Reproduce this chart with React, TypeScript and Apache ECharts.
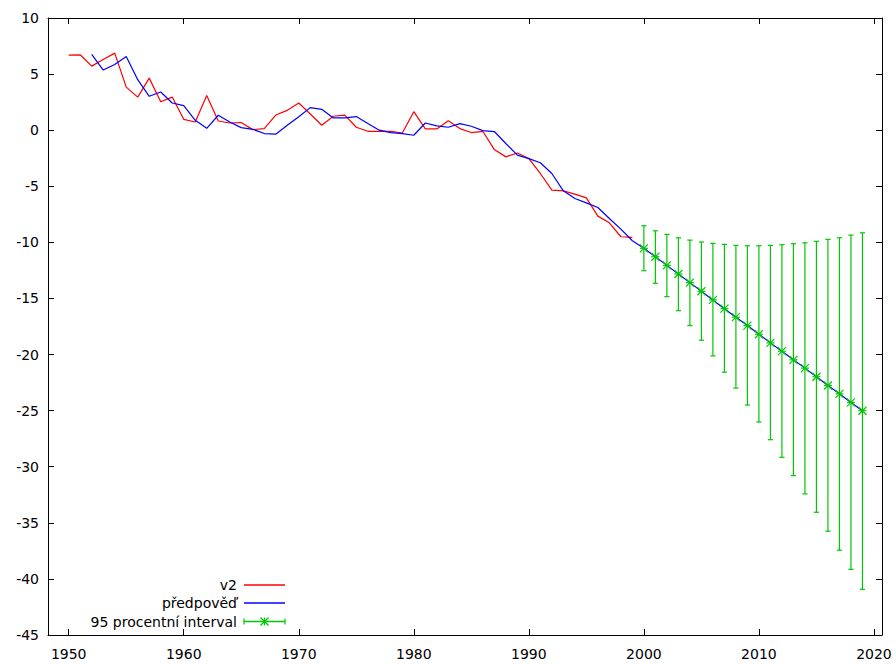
import React, { useEffect, useRef } from "react";
import * as echarts from "echarts";

// v2 (observed), years 1950..1999
const v2Years = [1950, 1951, 1952, 1953, 1954, 1955, 1956, 1957, 1958, 1959, 1960, 1961, 1962, 1963, 1964, 1965, 1966, 1967, 1968, 1969, 1970, 1971, 1972, 1973, 1974, 1975, 1976, 1977, 1978, 1979, 1980, 1981, 1982, 1983, 1984, 1985, 1986, 1987, 1988, 1989, 1990, 1991, 1992, 1993, 1994, 1995, 1996, 1997, 1998, 1999];
const v2Values = [6.69, 6.72, 5.71, 6.3, 6.87, 3.84, 2.95, 4.64, 2.54, 2.95, 0.97, 0.73, 3.1, 0.82, 0.64, 0.68, 0.05, 0.14, 1.35, 1.77, 2.42, 1.44, 0.44, 1.24, 1.35, 0.26, -0.1, -0.1, -0.1, -0.25, 1.65, 0.11, 0.11, 0.85, 0.14, -0.21, -0.1, -1.73, -2.38, -2.03, -2.53, -3.86, -5.35, -5.41, -5.7, -6.03, -7.66, -8.26, -9.5, -9.56];

// předpověď (fitted), years 1952..1999
const fitYears = [1952, 1953, 1954, 1955, 1956, 1957, 1958, 1959, 1960, 1961, 1962, 1963, 1964, 1965, 1966, 1967, 1968, 1969, 1970, 1971, 1972, 1973, 1974, 1975, 1976, 1977, 1978, 1979, 1980, 1981, 1982, 1983, 1984, 1985, 1986, 1987, 1988, 1989, 1990, 1991, 1992, 1993, 1994, 1995, 1996, 1997, 1998, 1999];
const fitValues = [6.75, 5.36, 5.86, 6.57, 4.5, 3.02, 3.4, 2.42, 2.19, 0.88, 0.17, 1.33, 0.73, 0.23, 0.08, -0.3, -0.36, 0.44, 1.2, 2.01, 1.86, 1.09, 1.09, 1.21, 0.59, 0, -0.21, -0.3, -0.45, 0.64, 0.38, 0.26, 0.59, 0.35, -0.04, -0.12, -1.19, -2.23, -2.53, -2.9, -3.86, -5.41, -6.09, -6.48, -6.89, -7.87, -8.82, -9.86];

// forecast with 95% interval, years 2000..2019
const fcYears = [2000, 2001, 2002, 2003, 2004, 2005, 2006, 2007, 2008, 2009, 2010, 2011, 2012, 2013, 2014, 2015, 2016, 2017, 2018, 2019];
const fcValues = [-10.53, -11.28, -12.05, -12.82, -13.59, -14.36, -15.13, -15.91, -16.67, -17.42, -18.19, -18.96, -19.7, -20.47, -21.21, -21.98, -22.76, -23.5, -24.27, -25.01];
const fcLower = [-12.53, -13.65, -14.84, -16.09, -17.42, -18.72, -20.12, -21.57, -22.99, -24.5, -26.01, -27.59, -29.16, -30.79, -32.42, -34.06, -35.75, -37.44, -39.15, -40.93];
const fcUpper = [-8.52, -8.97, -9.29, -9.59, -9.8, -9.97, -10.09, -10.18, -10.27, -10.3, -10.3, -10.27, -10.21, -10.12, -10.04, -9.91, -9.73, -9.59, -9.35, -9.15];

const xTicks = [1950, 1960, 1970, 1980, 1990, 2000, 2010, 2020];

const RED = "#ff0000";
const BLUE = "#0000ff";
const GREEN = "#00c800";
const FONT = "DejaVu Sans";
const FS = 14;

export default function App() {
  const ref = useRef<HTMLDivElement>(null);
  useEffect(() => {
    if (!ref.current) return;
    const chart = echarts.init(ref.current, null, { renderer: "svg" });

    const axisCommonX = {
      type: "value" as const,
      min: 1948.2,
      max: 2020.7,
      splitLine: { show: false },
      axisLine: { show: true, onZero: false, lineStyle: { color: "#000", width: 1 } },
      axisTick: { show: true, inside: true, length: 6, customValues: xTicks, lineStyle: { color: "#000" } },
    };
    const axisCommonY = {
      type: "value" as const,
      min: -45,
      max: 10,
      interval: 5,
      splitLine: { show: false },
      axisLine: { show: true, onZero: false, lineStyle: { color: "#000", width: 1 } },
      axisTick: { show: true, inside: true, length: 6, lineStyle: { color: "#000" } },
    };

    const legendX = 237;
    const lineX1 = 244;
    const lineX2 = 285;
    const rows = [585, 603, 621.5];
    const font = `${FS}px "${FONT}"`;

    chart.setOption({
      animation: false,
      backgroundColor: "#fff",
      grid: { left: 48, right: 14, top: 18, bottom: 29 },
      xAxis: [
        {
          ...axisCommonX,
          position: "bottom",
          axisLabel: {
            show: true,
            customValues: xTicks,
            margin: 12,
            color: "#000",
            fontFamily: FONT,
            fontSize: FS,
            formatter: (v: number) => String(Math.round(v)),
          },
        },
        {
          ...axisCommonX,
          position: "top",
          axisLabel: { show: false },
        },
      ],
      yAxis: [
        {
          ...axisCommonY,
          position: "left",
          axisLabel: { show: true, margin: 9, color: "#000", fontFamily: FONT, fontSize: FS },
        },
        {
          ...axisCommonY,
          position: "right",
          axisLabel: { show: false },
        },
      ],
      series: [
        {
          type: "line",
          name: "v2",
          data: v2Years.map((y, i) => [y, v2Values[i]]),
          showSymbol: false,
          symbol: "none",
          lineStyle: { color: RED, width: 1.2 },
          z: 2,
        },
        {
          type: "line",
          name: "předpověď",
          data: fitYears.map((y, i) => [y, fitValues[i]]).concat(fcYears.map((y, i) => [y, fcValues[i]])),
          showSymbol: false,
          symbol: "none",
          lineStyle: { color: BLUE, width: 1.2 },
          z: 3,
        },
        {
          type: "custom",
          name: "95 procentní interval",
          data: fcYears.map((y, i) => [y, fcValues[i], fcLower[i], fcUpper[i]]),
          encode: { x: 0, y: [1, 2, 3] },
          z: 4,
          renderItem: (params: any, api: any) => {
            const x = api.value(0);
            const c = api.coord([x, api.value(1)]);
            const lo = api.coord([x, api.value(2)]);
            const hi = api.coord([x, api.value(3)]);
            const cap = 2.6;
            const s = 4;
            const st = { stroke: GREEN, lineWidth: 1.2 };
            const ln = (x1: number, y1: number, x2: number, y2: number) => ({
              type: "line",
              shape: { x1, y1, x2, y2 },
              style: st,
            });
            return {
              type: "group",
              children: [
                ln(lo[0], lo[1], hi[0], hi[1]),
                ln(lo[0] - cap, lo[1], lo[0] + cap, lo[1]),
                ln(hi[0] - cap, hi[1], hi[0] + cap, hi[1]),
                ln(c[0] - s, c[1], c[0] + s, c[1]),
                ln(c[0] - s, c[1] - s, c[0] + s, c[1] + s),
                ln(c[0] - s, c[1] + s, c[0] + s, c[1] - s),
              ],
            };
          },
        },
      ],
      graphic: [
        { type: "text", x: legendX, y: rows[0], style: { text: "v2", align: "right", verticalAlign: "middle", fill: "#000", font } },
        { type: "line", shape: { x1: lineX1, y1: rows[0], x2: lineX2, y2: rows[0] }, style: { stroke: RED, lineWidth: 1.3 } },
        { type: "text", x: legendX, y: rows[1], style: { text: "předpověď", align: "right", verticalAlign: "middle", fill: "#000", font } },
        { type: "line", shape: { x1: lineX1, y1: rows[1], x2: lineX2, y2: rows[1] }, style: { stroke: BLUE, lineWidth: 1.3 } },
        { type: "text", x: legendX, y: rows[2], style: { text: "95 procentní interval", align: "right", verticalAlign: "middle", fill: "#000", font } },
        { type: "line", shape: { x1: lineX1, y1: rows[2], x2: lineX2, y2: rows[2] }, style: { stroke: GREEN, lineWidth: 1.3 } },
        { type: "line", shape: { x1: lineX1, y1: rows[2] - 3, x2: lineX1, y2: rows[2] + 3 }, style: { stroke: GREEN, lineWidth: 1.2 } },
        { type: "line", shape: { x1: lineX2, y1: rows[2] - 3, x2: lineX2, y2: rows[2] + 3 }, style: { stroke: GREEN, lineWidth: 1.2 } },
        { type: "line", shape: { x1: 264.5, y1: rows[2] - 4, x2: 264.5, y2: rows[2] + 4 }, style: { stroke: GREEN, lineWidth: 1.2 } },
        { type: "line", shape: { x1: 260.5, y1: rows[2] - 4, x2: 268.5, y2: rows[2] + 4 }, style: { stroke: GREEN, lineWidth: 1.2 } },
        { type: "line", shape: { x1: 260.5, y1: rows[2] + 4, x2: 268.5, y2: rows[2] - 4 }, style: { stroke: GREEN, lineWidth: 1.2 } },
      ],
    });
    return () => chart.dispose();
  }, []);
  return (
    <div
      ref={ref}
      style={{ position: "fixed", left: 0, top: 0, width: 896, height: 664, background: "#fff" }}
    />
  );
}
